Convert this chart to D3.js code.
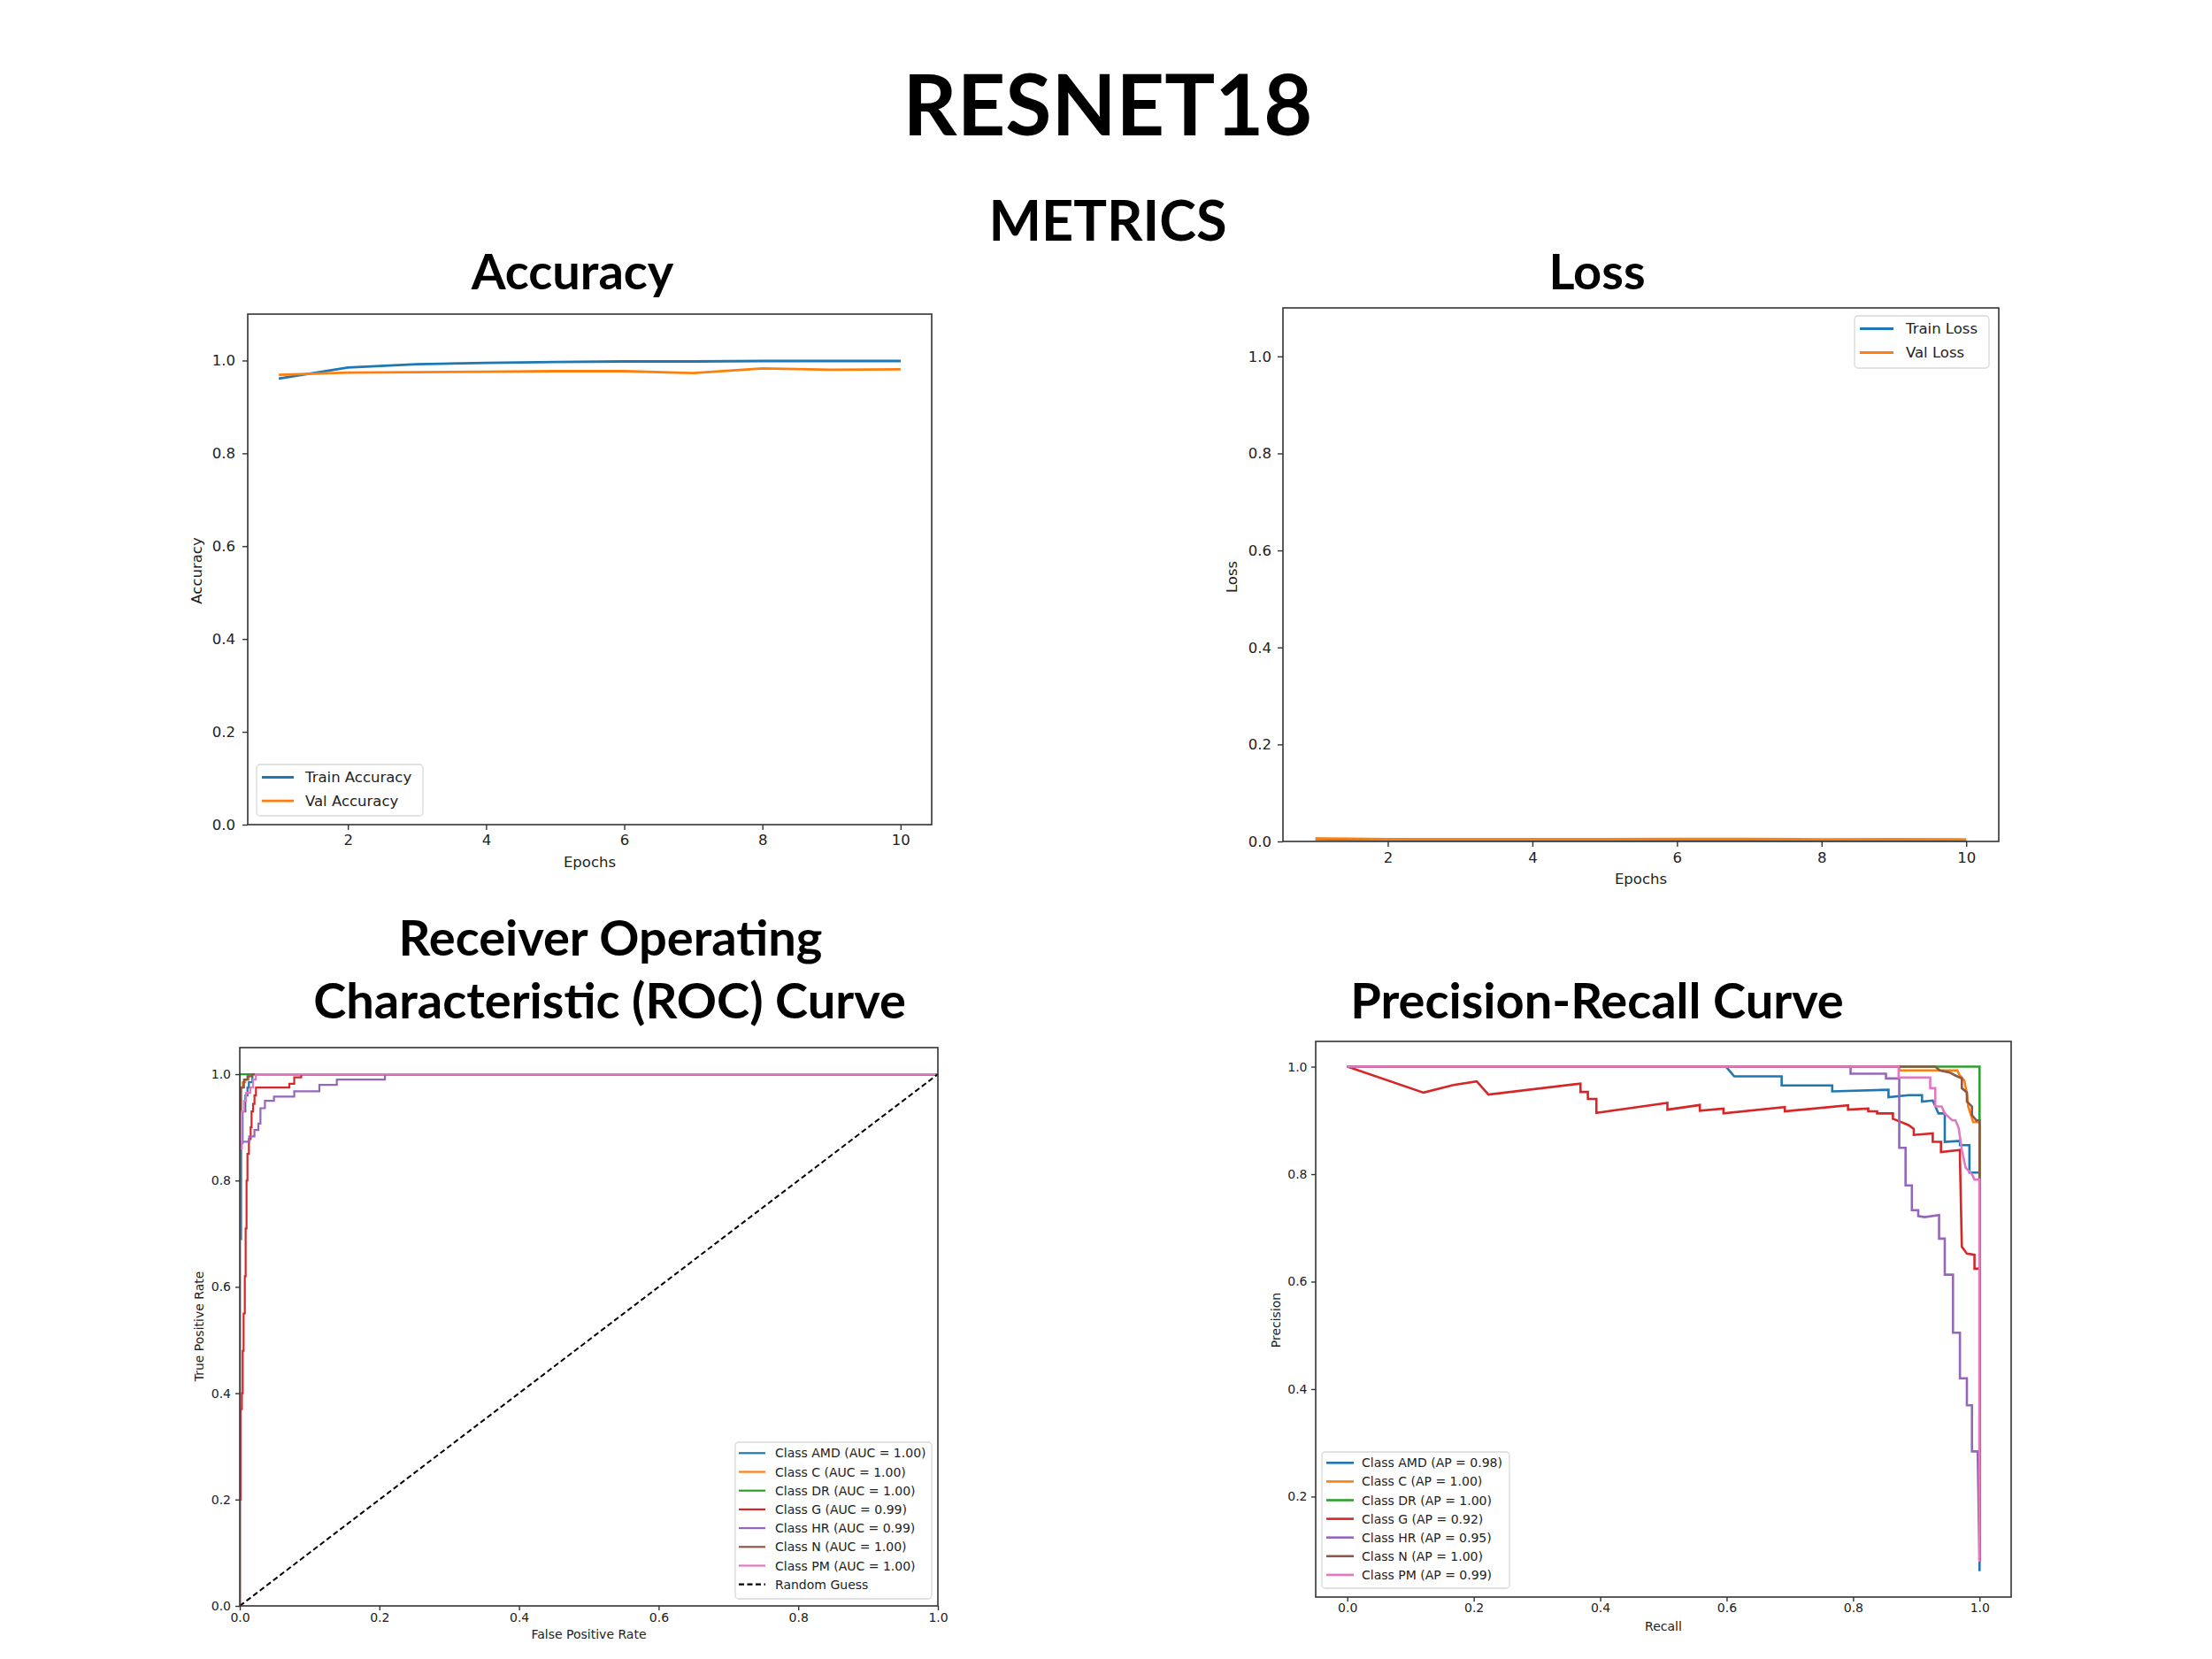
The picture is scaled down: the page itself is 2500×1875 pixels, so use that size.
<!DOCTYPE html>
<html><head><meta charset="utf-8">
<script src="https://cdn.jsdelivr.net/npm/d3@7"></script>
<style>body{margin:0;background:#fff}</style>
</head><body>
<svg id="chart" width="2500" height="1875"></svg>
<script>
// ---------------- DATA ----------------
const epochs = [1,2,3,4,5,6,7,8,9,10];
const trainAcc = [0.961,0.985,0.992,0.995,0.997,0.998,0.998,0.999,0.999,0.999];
const valAcc   = [0.969,0.974,0.975,0.976,0.977,0.977,0.973,0.983,0.980,0.981];
const trainLoss = [0.0050,0.0030,0.0024,0.0020,0.0018,0.0016,0.0015,0.0014,0.0013,0.0012];
const valLoss   = [0.0060,0.0045,0.0045,0.0045,0.0045,0.0048,0.0050,0.0042,0.0044,0.0043];

const classes = ["AMD","C","DR","G","HR","N","PM"];
const aucValues = ["1.00","1.00","1.00","0.99","0.99","1.00","1.00"];
const apValues  = ["0.98","1.00","1.00","0.92","0.95","1.00","0.99"];

// ROC step points [fpr, tpr] (tpr reached at that fpr)
const rocAMD = [[0,0],[0,0.69],[0.002,0.87],[0.004,0.93],[0.008,0.96],[0.011,0.975],[0.013,0.985],[0.018,1.0],[1,1]];
const rocC   = [[0,0],[0,0.975],[0.004,0.985],[0.008,0.99],[0.013,1.0],[1,1]];
const rocDR  = [[0,0],[0,1.0],[1,1]];
const rocG   = [[0,0],[0,0.20],[0.0013,0.37],[0.003,0.40],[0.0042,0.48],[0.0055,0.55],[0.0072,0.62],[0.0084,0.71],[0.0097,0.80],[0.011,0.85],[0.0131,0.878],[0.0156,0.90],[0.0169,0.93],[0.019,0.944],[0.0211,0.96],[0.0232,0.975],[0.071,0.982],[0.078,0.994],[0.088,1.0],[1,1]];
const rocHR  = [[0,0],[0,0.873],[0.0135,0.883],[0.021,0.895],[0.0266,0.907],[0.0296,0.936],[0.036,0.950],[0.049,0.958],[0.078,0.968],[0.114,0.980],[0.139,0.990],[0.208,1.0],[1,1]];
const rocN   = [[0,0],[0,0.93],[0.002,0.975],[0.006,0.99],[0.011,0.996],[0.018,1.0],[1,1]];
const rocPM  = [[0,0],[0,0.86],[0.003,0.93],[0.006,0.95],[0.009,0.965],[0.015,0.975],[0.019,0.99],[0.023,1.0],[1,1]];
const randomGuess = [[0,0],[1,1]];

// PR points [recall, precision]
const prAMD = [[0,1],[0.599,1],[0.612,0.982],[0.687,0.982],[0.687,0.965],[0.767,0.965],[0.767,0.954],[0.856,0.957],[0.856,0.943],[0.888,0.947],[0.909,0.947],[0.909,0.935],[0.926,0.937],[0.935,0.913],[0.945,0.913],[0.945,0.86],[0.969,0.862],[0.969,0.854],[0.984,0.854],[0.984,0.803],[1.0,0.803],[1.0,0.061]];
const prC   = [[0,1],[0.873,1],[0.873,0.993],[0.965,0.993],[0.968,0.985],[0.976,0.974],[0.98,0.95],[0.982,0.926],[0.99,0.897],[1.0,0.897],[1.0,0.08]];
const prDR  = [[0,1],[1,1],[1,0.08]];
const prG   = [[0,1],[0.1206,0.9517],[0.168,0.966],[0.2046,0.9725],[0.2233,0.948],[0.3688,0.9686],[0.3688,0.953],[0.3805,0.953],[0.3805,0.940],[0.394,0.940],[0.394,0.914],[0.5063,0.9325],[0.5063,0.920],[0.5576,0.9287],[0.5576,0.918],[0.595,0.922],[0.595,0.913],[0.692,0.925],[0.692,0.917],[0.792,0.928],[0.792,0.920],[0.824,0.922],[0.824,0.917],[0.838,0.917],[0.838,0.913],[0.863,0.913],[0.863,0.903],[0.876,0.897],[0.888,0.891],[0.896,0.884],[0.896,0.873],[0.926,0.876],[0.926,0.86],[0.939,0.86],[0.939,0.841],[0.969,0.845],[0.969,0.83],[0.972,0.665],[0.98,0.652],[0.992,0.65],[0.992,0.624],[1.0,0.624],[1.0,0.08]];
const prHR  = [[0,1],[0.796,1],[0.796,0.987],[0.852,0.987],[0.852,0.978],[0.873,0.978],[0.873,0.849],[0.883,0.849],[0.883,0.779],[0.893,0.779],[0.893,0.733],[0.903,0.733],[0.903,0.722],[0.913,0.72],[0.936,0.724],[0.936,0.68],[0.945,0.68],[0.945,0.613],[0.958,0.613],[0.958,0.505],[0.969,0.505],[0.969,0.42],[0.98,0.42],[0.98,0.37],[0.988,0.37],[0.988,0.284],[0.997,0.284],[1.0,0.08]];
const prN   = [[0,1],[0.93,1],[0.937,0.993],[0.953,0.989],[0.961,0.984],[0.972,0.978],[0.972,0.96],[0.98,0.952],[0.98,0.935],[0.988,0.926],[0.988,0.91],[0.995,0.90],[1.0,0.90],[1.0,0.08]];
const prPM  = [[0,1],[0.872,1],[0.872,0.98],[0.922,0.98],[0.922,0.96],[0.93,0.96],[0.93,0.926],[0.94,0.926],[0.945,0.913],[0.957,0.9],[0.962,0.9],[0.967,0.886],[0.972,0.845],[0.978,0.812],[0.988,0.80],[0.992,0.79],[1.0,0.79],[1.0,0.079]];

const xTicksEpoch = [2,4,6,8,10];
const yTicksMain = [0,0.2,0.4,0.6,0.8,1.0];
const yTicksPR = [0.2,0.4,0.6,0.8,1.0];

// ---------------- STYLE ----------------
const classColors = ["#1f77b4","#ff7f0e","#2ca02c","#d62728","#9467bd","#8c564b","#e377c2"];
const MPL = "'DejaVu Sans', sans-serif";
const TITLE = "Lato, 'Open Sans', sans-serif";
const svg = d3.select("#chart");
svg.append("rect").attr("width",2500).attr("height",1875).attr("fill","#fff");

let clipId = 0;
function panel(c){
  const x = d3.scaleLinear().domain(c.xDomain).range([c.left,c.right]);
  const y = d3.scaleLinear().domain(c.yDomain).range([c.bottom,c.top]);
  const g = svg.append("g");
  const id = "clip"+(clipId++);
  g.append("clipPath").attr("id",id).append("rect")
    .attr("x",c.left).attr("y",c.top).attr("width",c.right-c.left).attr("height",c.bottom-c.top);
  const ax = g.append("g").attr("transform",`translate(0,${c.bottom})`)
    .call(d3.axisBottom(x).tickValues(c.xTicks).tickFormat(c.xFmt).tickSizeOuter(0).tickSize(c.tick).tickPadding(c.xPad));
  const ay = g.append("g").attr("transform",`translate(${c.left},0)`)
    .call(d3.axisLeft(y).tickValues(c.yTicks).tickFormat(d3.format(".1f")).tickSizeOuter(0).tickSize(c.tick).tickPadding(c.yPad));
  [ax,ay].forEach(a=>{
    a.select(".domain").remove();
    a.selectAll("line").attr("stroke","#333").attr("stroke-width",1.4);
    a.selectAll("text").attr("font-family",MPL).attr("font-size",c.fs).attr("fill","#222");
  });
  const data = g.append("g").attr("clip-path",`url(#${id})`);
  g.append("text").attr("x",(c.left+c.right)/2+c.xLabelDx).attr("y",c.xLabelY)
    .attr("text-anchor","middle").attr("font-family",MPL).attr("font-size",c.fs).attr("fill","#222").text(c.xLabel);
  g.append("text").attr("transform",`translate(${c.yLabelX},${c.yLabelCy}) rotate(-90)`)
    .attr("text-anchor","middle").attr("font-family",MPL).attr("font-size",c.fs).attr("fill","#222").text(c.yLabel);
  return {g,x,y,data,c};
}
function frame(p){
  const c=p.c;
  p.g.append("rect").attr("x",c.left).attr("y",c.top).attr("width",c.right-c.left).attr("height",c.bottom-c.top)
    .attr("fill","none").attr("stroke","#333").attr("stroke-width",1.6);
}
function legend(p, L, items){
  const g = p.g.append("g");
  g.append("rect").attr("x",L.x0).attr("y",L.y0).attr("width",L.x1-L.x0).attr("height",L.y1-L.y0)
    .attr("rx",4).attr("fill","#fff").attr("fill-opacity",0.85).attr("stroke","#d8d8d8").attr("stroke-width",1.3);
  items.forEach((it,i)=>{
    const cy = L.row0 + i*L.step;
    g.append("line").attr("x1",L.lx0).attr("x2",L.lx1).attr("y1",cy).attr("y2",cy)
      .attr("stroke",it.color).attr("stroke-width",L.lw).attr("stroke-dasharray",it.dash||null);
    g.append("text").attr("x",L.tx).attr("y",cy+0.36*L.fs).attr("font-family",MPL).attr("font-size",L.fs)
      .attr("fill","#222").text(it.label);
  });
}

// ---------------- TITLES ----------------
function title(txt,x,y,fs){
  svg.append("text").attr("x",x).attr("y",y).attr("text-anchor","middle").attr("font-family",TITLE)
    .attr("font-weight",700).attr("font-size",fs).attr("fill","#000").text(txt);
}
title("RESNET18",1252,153,95);
title("METRICS",1252,272,63);
title("Accuracy",647,327,56);
title("Loss",1805,327,56);
title("Receiver Operating",690,1080,56);
title("Characteristic (ROC) Curve",689,1151,56);
title("Precision-Recall Curve",1805,1151,56);

// ---------------- ACCURACY ----------------
{
  const p = panel({left:280,right:1053,top:355,bottom:932,xDomain:[0.55,10.45],yDomain:[0,1.1],
    xTicks:xTicksEpoch,yTicks:yTicksMain,xFmt:d3.format("d"),tick:6,xPad:5,yPad:8,fs:16.5,
    xLabel:"Epochs",xLabelDx:0,xLabelY:980,yLabel:"Accuracy",yLabelX:228,yLabelCy:645});
  const line = d3.line().x((d,i)=>p.x(epochs[i])).y(d=>p.y(d));
  [[trainAcc,classColors[0]],[valAcc,classColors[1]]].forEach(([s,col])=>{
    p.data.append("path").attr("d",line(s)).attr("fill","none").attr("stroke",col).attr("stroke-width",2.8);
  });
  frame(p);
  legend(p,{x0:290,y0:864,x1:478,y1:922,lx0:296,lx1:332,tx:345,row0:878.5,step:26.6,fs:16.5,lw:2.8},
    [{label:"Train Accuracy",color:classColors[0]},{label:"Val Accuracy",color:classColors[1]}]);
}

// ---------------- LOSS ----------------
{
  const p = panel({left:1450,right:2259,top:348,bottom:951,xDomain:[0.55,10.45],yDomain:[0,1.1],
    xTicks:xTicksEpoch,yTicks:yTicksMain,xFmt:d3.format("d"),tick:6,xPad:6,yPad:7,fs:16.5,
    xLabel:"Epochs",xLabelDx:0,xLabelY:999,yLabel:"Loss",yLabelX:1398,yLabelCy:652});
  const line = d3.line().x((d,i)=>p.x(epochs[i])).y(d=>p.y(d));
  [[trainLoss,classColors[0]],[valLoss,classColors[1]]].forEach(([s,col])=>{
    p.data.append("path").attr("d",line(s)).attr("fill","none").attr("stroke",col).attr("stroke-width",3);
  });
  frame(p);
  legend(p,{x0:2096,y0:357,x1:2248,y1:416,lx0:2102,lx1:2140,tx:2154,row0:371.5,step:27,fs:16.5,lw:2.8},
    [{label:"Train Loss",color:classColors[0]},{label:"Val Loss",color:classColors[1]}]);
}

// ---------------- ROC ----------------
{
  const p = panel({left:271,right:1060,top:1184,bottom:1815,xDomain:[0,1],yDomain:[0,1.05],
    xTicks:[0,0.2,0.4,0.6,0.8,1.0],yTicks:yTicksMain,xFmt:d3.format(".1f"),tick:5,xPad:3,yPad:5,fs:14,
    xLabel:"False Positive Rate",xLabelDx:0,xLabelY:1852,yLabel:"True Positive Rate",yLabelX:230,yLabelCy:1499});
  const step = d3.line().x(d=>p.x(d[0])).y(d=>p.y(d[1])).curve(d3.curveStepAfter);
  [rocAMD,rocC,rocDR,rocG,rocHR,rocN,rocPM].forEach((s,i)=>{
    p.data.append("path").attr("d",step(s)).attr("fill","none").attr("stroke",classColors[i]).attr("stroke-width",2.2);
  });
  const lin = d3.line().x(d=>p.x(d[0])).y(d=>p.y(d[1]));
  p.data.append("path").attr("d",lin(randomGuess)).attr("fill","none").attr("stroke","#000")
    .attr("stroke-width",2).attr("stroke-dasharray","6,3.5");
  frame(p);
  const items = classes.map((c,i)=>({label:`Class ${c} (AUC = ${aucValues[i]})`,color:classColors[i]}));
  items.push({label:"Random Guess",color:"#000",dash:"6,3.5"});
  legend(p,{x0:831,y0:1630,x1:1053,y1:1807,lx0:835,lx1:865,tx:876,row0:1642.3,step:21.2,fs:14,lw:2.2},items);
}

// ---------------- PR ----------------
{
  const p = panel({left:1487,right:2273,top:1177,bottom:1805,xDomain:[-0.05,1.05],yDomain:[0.013,1.047],
    xTicks:[0,0.2,0.4,0.6,0.8,1.0],yTicks:yTicksPR,xFmt:d3.format(".1f"),tick:5,xPad:2,yPad:4.5,fs:14,
    xLabel:"Recall",xLabelDx:0,xLabelY:1843,yLabel:"Precision",yLabelX:1447,yLabelCy:1492});
  const lin = d3.line().x(d=>p.x(d[0])).y(d=>p.y(d[1]));
  [prAMD,prC,prDR,prG,prHR,prN,prPM].forEach((s,i)=>{
    p.data.append("path").attr("d",lin(s)).attr("fill","none").attr("stroke",classColors[i]).attr("stroke-width",2.6);
  });
  frame(p);
  const items = classes.map((c,i)=>({label:`Class ${c} (AP = ${apValues[i]})`,color:classColors[i]}));
  legend(p,{x0:1494,y0:1641,x1:1706,y1:1795,lx0:1499,lx1:1530,tx:1539,row0:1653.3,step:21.1,fs:14,lw:2.6},items);
}
</script>
</body></html>
